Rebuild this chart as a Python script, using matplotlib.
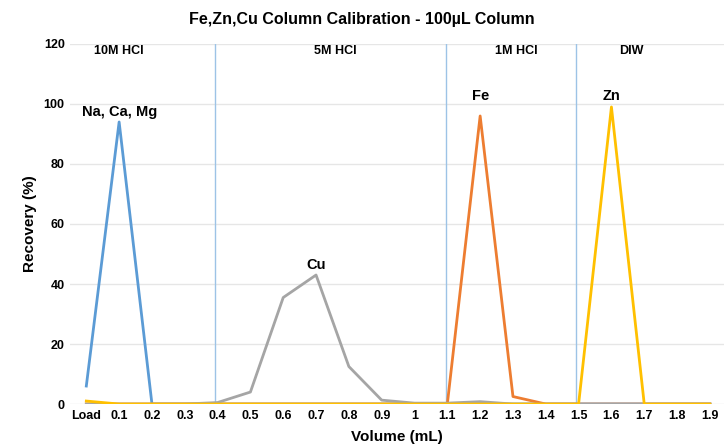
import matplotlib.pyplot as plt

plt.rcParams['font.family'] = ['Liberation Sans', 'DejaVu Sans']

volumes = ['Load', '0.1', '0.2', '0.3', '0.4', '0.5', '0.6', '0.7', '0.8', '0.9',
           '1', '1.1', '1.2', '1.3', '1.4', '1.5', '1.6', '1.7', '1.8', '1.9']
na_ca_mg = [6, 94, 0, 0, 0, 0, 0, 0, 0, 0, 0, 0, 0, 0, 0, 0, 0, 0, 0, 0]
fe = [0, 0, 0, 0, 0, 0, 0, 0, 0, 0, 0, 0, 96, 2.5, 0, 0, 0, 0, 0, 0]
cu = [0, 0, 0, 0, 0.5, 4, 35.5, 43, 12.5, 1.3, 0.3, 0.3, 0.8, 0, 0, 0, 0, 0, 0, 0]
zn = [1, 0, 0, 0, 0, 0, 0, 0, 0, 0, 0, 0, 0, 0, 0, 0, 99, 0, 0, 0]

eluents = ['10M HCl', '5M HCl', '1M HCl', 'DIW']
eluent_x = [1, 7.6, 13.1, 16.6]
boundaries = [3.93, 10.96, 14.92]

x = list(range(len(volumes)))

fig = plt.figure(figsize=(7.24, 4.44), dpi=100)
ax = fig.add_axes([0.097, 0.09, 0.903, 0.811])

for y in range(0, 121, 20):
    ax.axhline(y, color='#e6e6e6', lw=1, zorder=0)
for b in boundaries:
    ax.axvline(b, color='#9dc3e6', lw=1, zorder=1)

ax.plot(x, na_ca_mg, color='#5b9bd5', lw=2, zorder=2)
ax.plot(x, fe, color='#ed7d31', lw=2, zorder=3)
ax.plot(x, cu, color='#a5a5a5', lw=2, zorder=4)
ax.plot(x, zn, color='#ffc000', lw=2, zorder=5)

for name, xx in zip(eluents, eluent_x):
    ax.text(xx, 117.5, name, ha='center', va='center', fontsize=9, fontweight='bold')

ax.text(1, 97.3, 'Na, Ca, Mg', ha='center', va='center', fontsize=10.5, fontweight='bold')
ax.text(12, 102.7, 'Fe', ha='center', va='center', fontsize=10.5, fontweight='bold')
ax.text(16, 102.7, 'Zn', ha='center', va='center', fontsize=10.5, fontweight='bold')
ax.text(7, 46.3, 'Cu', ha='center', va='center', fontsize=10.5, fontweight='bold')

ax.set_xlim(-0.49, 19.43)
ax.set_ylim(0, 120)
ax.set_xticks(x)
ax.set_xticklabels(volumes, fontsize=9, fontweight='bold')
ax.set_yticks(range(0, 121, 20))
ax.set_yticklabels([str(v) for v in range(0, 121, 20)], fontsize=9, fontweight='bold')
ax.tick_params(length=0, pad=4)
for s in ax.spines.values():
    s.set_visible(False)

ax.set_xlabel('Volume (mL)', fontsize=11, fontweight='bold', labelpad=6)
ax.set_ylabel('Recovery (%)', fontsize=11, fontweight='bold', labelpad=5)
fig.suptitle('Fe,Zn,Cu Column Calibration - 100\u00b5L Column', fontsize=11.5,
             fontweight='bold', y=0.972)

fig.savefig('out.png', dpi=100)
